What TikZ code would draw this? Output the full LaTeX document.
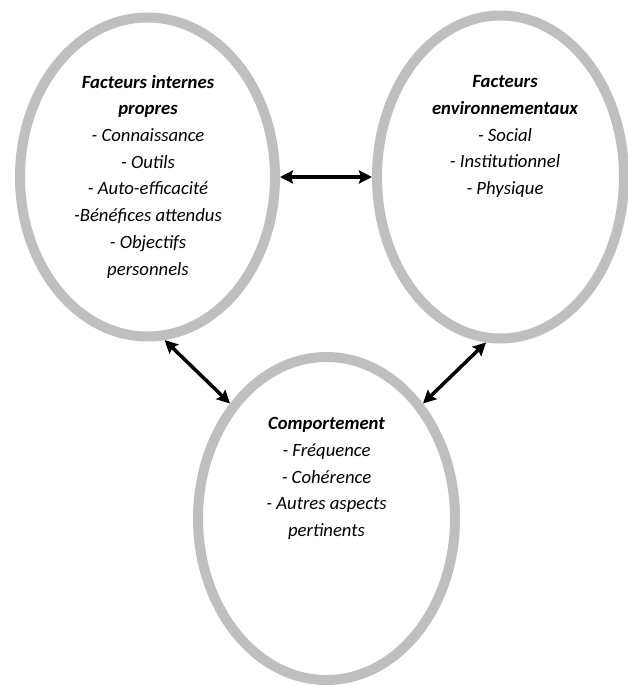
\documentclass[tikz,border=0pt]{standalone}
\usepackage{xcolor}
\usepackage{fontspec}
\setmainfont{Carlito}
\usetikzlibrary{shapes.geometric,arrows.meta}
\definecolor{ringgray}{RGB}{191,191,191}

\begin{document}
\begin{tikzpicture}[x=1pt,y=-1pt,
    ring/.style={ellipse,draw=ringgray,line width=10pt,inner sep=0pt},
    txt/.style={align=center,inner sep=0pt,font=\fontsize{18.7}{26.7}\selectfont\itshape},
    arr/.style={{Stealth[length=13pt,width=13pt,inset=2pt]}-{Stealth[length=13pt,width=13pt,inset=2pt]},line width=3.5pt,black}]
      \useasboundingbox (0,0) rectangle (628,686);
      \node[ring,minimum width=255pt,minimum height=319pt] (fac) at (147.5,177) {};
      \node[ring,minimum width=247pt,minimum height=323pt] (env) at (500.5,177) {};
      \node[ring,minimum width=257pt,minimum height=323pt] (comp) at (326.5,518.5) {};
      \node[txt] (factxt) at (148,176.5) {\textbf{Facteurs internes}\\ \textbf{propres}\\ - Connaissance\\ - Outils\\ - Auto-efficacité\\ -Bénéfices attendus\\ - Objectifs\\ personnels};
      \node[txt] (envtxt) at (505,136.5) {\textbf{Facteurs}\\ \textbf{environnementaux}\\ - Social\\ - Institutionnel\\ - Physique};
      \node[txt] (comptxt) at (326.5,478.5) {\textbf{Comportement}\\ - Fréquence\\ - Cohérence\\ - Autres aspects\\ pertinents};
      \draw[arr] (fac.east) -- (env.west);
      \draw[arr] (fac.-84) -- (comp.130);
      \draw[arr] (env.-95) -- (comp.50);
    \end{tikzpicture}
\end{document}
